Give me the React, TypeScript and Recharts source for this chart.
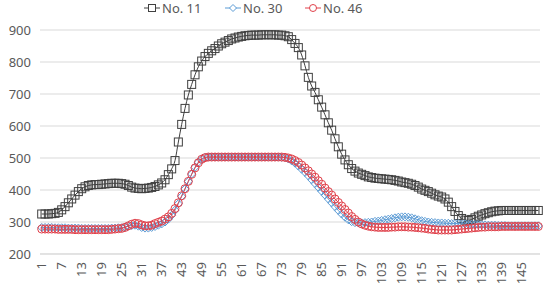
import React from 'react';
import { LineChart, Line, XAxis, YAxis, CartesianGrid } from 'recharts';

// sample values
const no11 = [
  325, 325, 325, 326, 327, 330, 338, 348, 360, 372,
  384, 395, 404, 410, 414, 416, 417, 417, 418, 419,
  420, 421, 421, 421, 420, 418, 414, 409, 406, 405,
  404, 405, 406, 408, 411, 416, 422, 432, 448, 466,
  492, 550, 605, 655, 697, 730, 760, 785, 803, 817,
  827, 835, 842, 850, 857, 862, 867, 872, 875, 878,
  880, 882, 883, 884, 884, 884, 885, 885, 885, 885,
  885, 884, 884, 882, 879, 870, 858, 845, 822, 788,
  752, 725, 705, 682, 659, 635, 610, 587, 560, 535,
  512, 494, 479, 467, 459, 453, 449, 445, 441, 439,
  437, 436, 435, 434, 433, 432, 430, 428, 425, 423,
  421, 418, 414, 409, 403, 399, 395, 390, 385, 381,
  378, 372, 362, 348, 333, 320, 311, 306, 305, 308,
  313, 318, 322, 326, 329, 332, 334, 335, 336, 336,
  336, 336, 336, 336, 336, 336, 336, 336, 336, 336,
];

const no30 = [
  283, 283, 283, 283, 282, 282, 282, 282, 281, 281,
  281, 281, 280, 280, 280, 280, 280, 280, 280, 280,
  280, 281, 281, 282, 282, 284, 287, 289, 290, 287,
  283, 281, 281, 283, 286, 290, 294, 300, 309, 321,
  337, 357, 380, 403, 427, 450, 471, 487, 497, 502,
  503, 503, 503, 503, 503, 503, 503, 503, 503, 503,
  503, 503, 503, 503, 503, 503, 503, 503, 503, 503,
  503, 503, 502, 501, 497, 491, 484, 475, 465, 455,
  444, 432, 420, 408, 396, 384, 372, 360, 348, 336,
  325, 315, 307, 301, 298, 297, 297, 298, 299, 300,
  302, 303, 305, 307, 309, 311, 313, 315, 316, 316,
  315, 313, 310, 307, 304, 302, 300, 299, 298, 297,
  297, 296, 296, 295, 295, 295, 294, 294, 293, 293,
  292, 292, 291, 291, 290, 290, 290, 289, 289, 289,
  288, 288, 288, 288, 288, 288, 288, 288, 288, 288,
];

const no46 = [
  278, 278, 278, 278, 278, 277, 277, 277, 277, 277,
  276, 276, 276, 276, 276, 276, 276, 276, 276, 276,
  276, 277, 278, 279, 280, 283, 288, 293, 296, 295,
  291, 288, 288, 290, 295, 299, 303, 309, 316, 327,
  342, 360, 382, 404, 427, 449, 469, 485, 496, 501,
  503, 503, 503, 503, 503, 503, 503, 503, 503, 503,
  503, 503, 503, 503, 503, 503, 503, 503, 503, 503,
  503, 503, 503, 502, 500, 497, 492, 486, 478, 469,
  460, 450, 440, 429, 418, 406, 395, 384, 372, 361,
  350, 339, 328, 317, 308, 300, 294, 290, 287, 285,
  284, 283, 283, 283, 283, 284, 284, 285, 285, 285,
  284, 284, 283, 282, 281, 280, 278, 277, 276, 275,
  275, 275, 275, 275, 276, 277, 278, 279, 280, 281,
  282, 283, 284, 284, 285, 285, 285, 285, 286, 286,
  286, 286, 286, 286, 286, 286, 286, 286, 286, 286,
];

const yTicks = [200, 300, 400, 500, 600, 700, 800, 900];

const BLACK = '#404040';
const BLUE = '#5b9bd5';
const RED = '#e0404a';
const FONT = '"Noto Sans", sans-serif';

const data = no11.map((v, i) => ({ idx: i + 1, no11: v, no30: no30[i], no46: no46[i] }));

const squareDot = (props: any) => {
  const { cx, cy, index } = props;
  if (cx == null || cy == null) return <g key={`s${index}`} />;
  return <rect key={`s${index}`} x={cx - 4} y={cy - 4} width={8} height={8} fill="none" stroke={BLACK} strokeWidth={1} />;
};

const diamondDot = (props: any) => {
  const { cx, cy, index } = props;
  if (cx == null || cy == null) return <g key={`d${index}`} />;
  const r = 4;
  return (
    <path key={`d${index}`} d={`M${cx},${cy - r}L${cx + r},${cy}L${cx},${cy + r}L${cx - r},${cy}Z`}
      fill="none" stroke={BLUE} strokeWidth={1} />
  );
};

const circleDot = (props: any) => {
  const { cx, cy, index } = props;
  if (cx == null || cy == null) return <g key={`c${index}`} />;
  return <circle key={`c${index}`} cx={cx} cy={cy} r={4} fill="none" stroke={RED} strokeWidth={1} />;
};

const XTick = (props: any) => {
  const { x, y, payload } = props;
  return (
    <g transform={`translate(${x},${y})`}>
      <text x={0} y={0} dy="0.35em" textAnchor="end" transform="rotate(-90)"
        fill="#595959" fontSize={13} fontFamily={FONT}>
        {payload.value}
      </text>
    </g>
  );
};

function LegendMark({ kind, color }: { kind: string; color: string }) {
  return (
    <svg width={16} height={10} style={{ display: 'block' }}>
      <line x1={0} y1={5} x2={16} y2={5} stroke={color} strokeWidth={1} />
      {kind === 'square' && <rect x={4.5} y={1.5} width={7} height={7} fill="#fff" stroke={color} />}
      {kind === 'diamond' && <path d="M8,1.5L11.5,5L8,8.5L4.5,5Z" fill="#fff" stroke={color} />}
      {kind === 'circle' && <circle cx={8} cy={5} r={3.5} fill="#fff" stroke={color} />}
    </svg>
  );
}

const legendItems = [
  { name: 'No. 11', kind: 'square', color: BLACK, left: 144 },
  { name: 'No. 30', kind: 'diamond', color: BLUE, left: 225 },
  { name: 'No. 46', kind: 'circle', color: RED, left: 305 },
];

export default function App() {
  return (
    <div style={{ position: 'absolute', left: 0, top: 0, width: 544, height: 290, background: '#fff' }}>
      <LineChart width={544} height={290} data={data} margin={{ top: 30, right: 4, bottom: 0, left: 0 }}>
        <CartesianGrid vertical={false} stroke="#d9d9d9" />
        <XAxis dataKey="idx" interval={5} tickLine={false} axisLine={{ stroke: '#d9d9d9' }}
          height={36} tickSize={6} tickMargin={2} tick={<XTick />} padding={{ left: 1.7, right: 1.7 }} />
        <YAxis domain={[200, 900]} ticks={yTicks} width={40} tickLine={false} axisLine={false}
          tickSize={0} tickMargin={9} tick={{ fill: '#595959', fontSize: 13, fontFamily: FONT }} />
        <Line type="monotone" dataKey="no11" stroke={BLACK} strokeWidth={1} dot={squareDot} isAnimationActive={false} />
        <Line type="monotone" dataKey="no30" stroke={BLUE} strokeWidth={1} dot={diamondDot} isAnimationActive={false} />
        <Line type="monotone" dataKey="no46" stroke={RED} strokeWidth={1} dot={circleDot} isAnimationActive={false} />
      </LineChart>
      {legendItems.map((it) => (
        <div key={it.name} style={{
          position: 'absolute', left: it.left, top: 0, height: 16, lineHeight: '16px', zIndex: 2,
          display: 'flex', alignItems: 'center', gap: 2,
          fontFamily: FONT, fontSize: 13, color: '#595959',
        }}>
          <LegendMark kind={it.kind} color={it.color} />
          <span>{it.name}</span>
        </div>
      ))}
    </div>
  );
}
